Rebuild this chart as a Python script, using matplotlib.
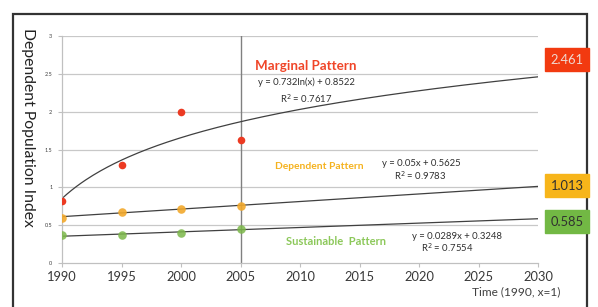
import numpy as np
import matplotlib
matplotlib.use("Agg")
import matplotlib.pyplot as plt
from matplotlib.patches import Rectangle

plt.rcParams['font.family'] = ['Lato', 'DejaVu Sans']

years = [1990, 1995, 2000, 2005]
marginal = [0.82, 1.29, 2.00, 1.62]
dependent = [0.60, 0.675, 0.715, 0.755]
sustainable = [0.365, 0.365, 0.395, 0.455]

# trendline coefficients (x index: 1990 -> 1, step 5 years)
marg_a, marg_b = 0.732, 0.8522
dep_a, dep_b = 0.05, 0.5625
sus_a, sus_b = 0.0289, 0.3248

end_values = ["2.461", "1.013", "0.585"]

xticks = [1990, 1995, 2000, 2005, 2010, 2015, 2020, 2025, 2030]
yticks = [0, 0.5, 1, 1.5, 2, 2.5, 3]

red = '#ec3a22'
orange = '#f2a92c'
green = '#7cb84a'
box_red = '#f23a10'
box_orange = '#f7b51a'
box_green = '#72b844'

W, H = 598, 307
fig = plt.figure(figsize=(W/100, H/100), dpi=100)
ax = fig.add_axes([62/W, 1-263/H, (538-62)/W, (263-36)/H])

# figure frame
fig.patches.append(Rectangle((13/W, -0.05), (587-13)/W, 1.05-14/H, transform=fig.transFigure,
                             fill=False, lw=1.6, ec='#333333'))

ax.set_xlim(1990, 2030)
ax.set_ylim(0, 3)
for y in yticks[1:]:
    ax.axhline(y, color='#c8c8c8', lw=0.9, zorder=0)
ax.axvline(2005, color='#808080', lw=1.0, zorder=0)

for s in ['top', 'right']:
    ax.spines[s].set_visible(False)
for s in ['left', 'bottom']:
    ax.spines[s].set_color('#c0c0c0')
    ax.spines[s].set_linewidth(0.9)

ax.set_xticks(xticks)
ax.set_xticklabels([str(t) for t in xticks], fontsize=9.3, color='#383838')
ax.set_yticks(yticks)
ax.set_yticklabels(['0', '0.5', '1', '1.5', '2', '2.5', '3'], fontsize=4, color='#404040')
ax.tick_params(axis='x', length=3, color='#c0c0c0', pad=3)
ax.tick_params(axis='y', length=3, color='#c0c0c0', pad=4)

xs = np.linspace(1990, 2030, 200)
xi = (xs - 1990) / 5 + 1
ax.plot(xs, marg_a*np.log(xi) + marg_b, color='#404040', lw=0.9, zorder=2)
ax.plot(xs, dep_a*xi + dep_b, color='#404040', lw=0.9, zorder=2)
ax.plot(xs, sus_a*xi + sus_b, color='#404040', lw=0.9, zorder=2)

ax.scatter(years, dependent, s=38, color=orange, alpha=0.9, zorder=3, lw=0)
ax.scatter(years, sustainable, s=38, color=green, alpha=0.85, zorder=3, lw=0)
ax.scatter(years, marginal, s=30, color=red, zorder=4, lw=0)

# annotations
eqc = '#303030'
ax.text(2010.5, 2.60, 'Marginal Pattern', color='#f04528', fontsize=9.6, fontweight='bold', ha='center', va='center')
ax.text(2010.5, 2.39, 'y = 0.732ln(x) + 0.8522', color=eqc, fontsize=6.8, ha='center', va='center')
ax.text(2010.5, 2.17, 'R$^2$ = 0.7617', color=eqc, fontsize=6.8, ha='center', va='center')

ax.text(2011.6, 1.27, 'Dependent Pattern', color='#f5b21e', fontsize=7.4, fontweight='bold', ha='center', va='center')
ax.text(2020.2, 1.32, 'y = 0.05x + 0.5625', color=eqc, fontsize=6.8, ha='center', va='center')
ax.text(2020.1, 1.15, 'R$^2$ = 0.9783', color=eqc, fontsize=6.8, ha='center', va='center')

ax.text(2013.0, 0.28, 'Sustainable  Pattern', color='#8cc85a', fontsize=8, fontweight='bold', ha='center', va='center')
ax.text(2023.2, 0.345, 'y = 0.0289x + 0.3248', color=eqc, fontsize=6.8, ha='center', va='center')
ax.text(2022.4, 0.20, 'R$^2$ = 0.7554', color=eqc, fontsize=6.8, ha='center', va='center')

fig.text(28/W, 1-127/H, 'Dependent Population Index', fontsize=11.3, rotation=-90,
         color='#222222', ha='center', va='center')
fig.text(560/W, 1-292/H, 'Time (1990, x=1)', fontsize=8.6, color='#404040', ha='right', va='center')

# end value boxes
box_colors = [box_red, box_orange, box_green]
text_colors = ['#f0d8d0', '#303030', '#303030']
box_tops = [48, 174, 210]
for val, col, tc, top in zip(end_values, box_colors, text_colors, box_tops):
    fig.patches.append(Rectangle((545/W, 1-(top+23)/H), 44/W, 23/H, transform=fig.transFigure,
                                 color=col, zorder=5))
    fig.text(567/W, 1-(top+11.5)/H, val, fontsize=9.3, color=tc, ha='center', va='center', zorder=6)

fig.savefig('out.png', dpi=100)
